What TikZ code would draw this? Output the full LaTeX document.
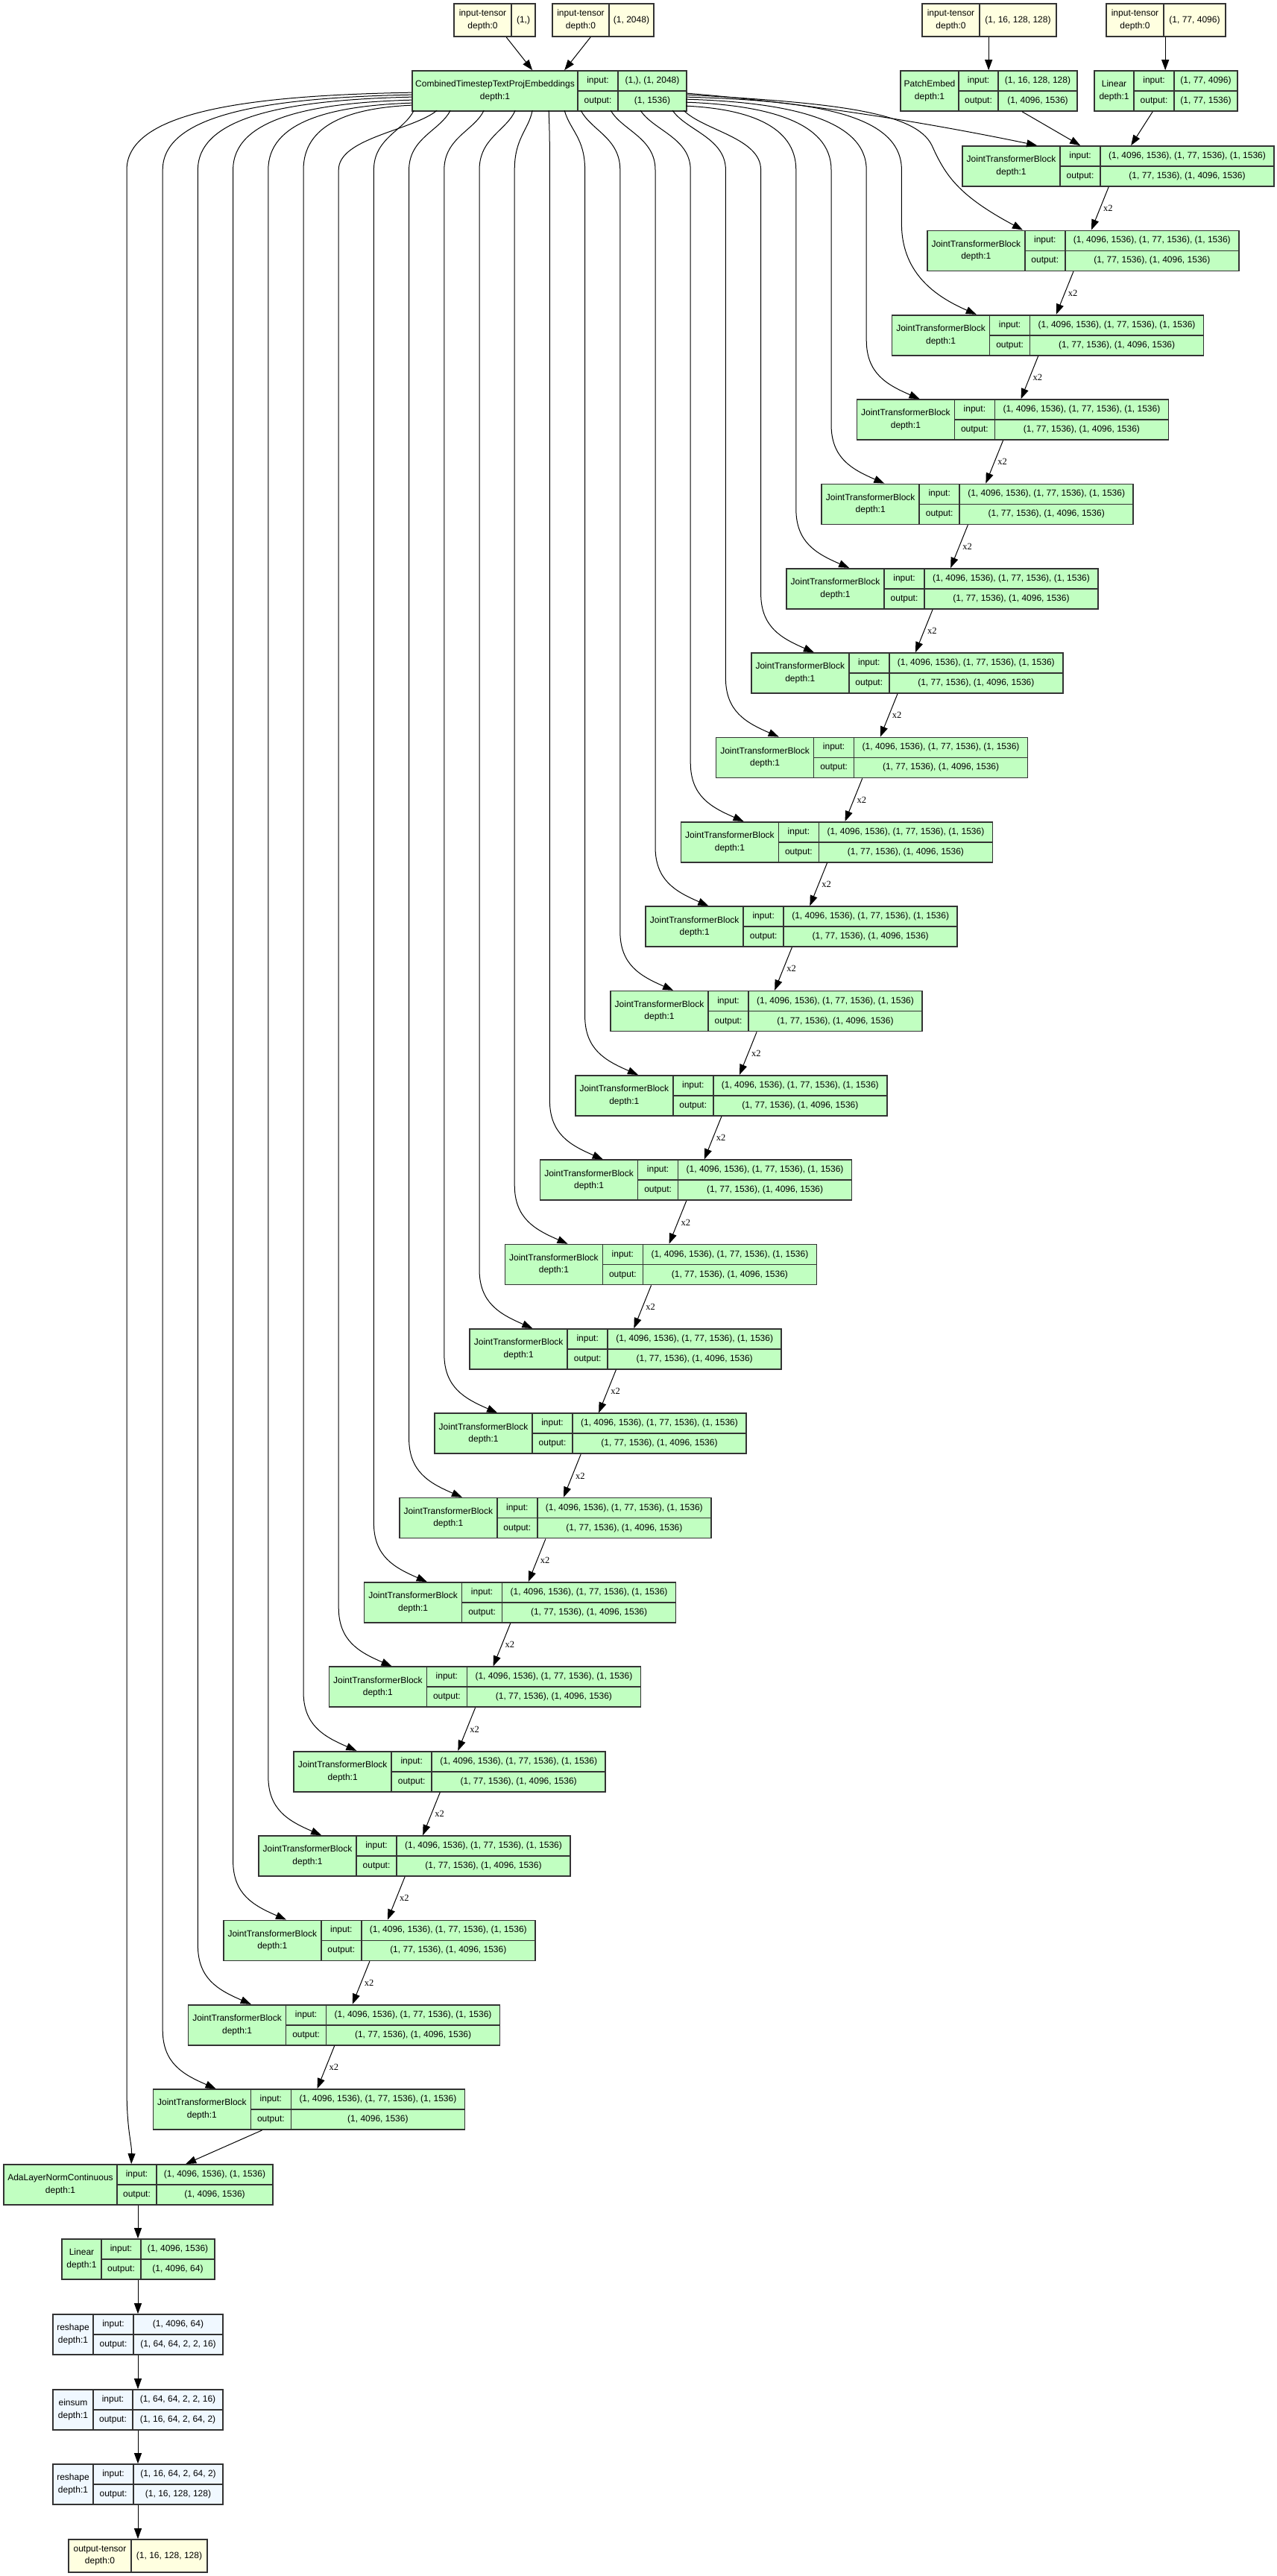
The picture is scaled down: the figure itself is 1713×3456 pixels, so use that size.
\documentclass[tikz,border=0pt]{standalone}
\usepackage{fontspec}
\setmainfont{Liberation Sans}
\newfontfamily\tvserif{Liberation Serif}
\usetikzlibrary{arrows.meta,calc,fit}
\definecolor{modgreen}{HTML}{C1FFC1}
\definecolor{tenyellow}{HTML}{FFFFE0}
\definecolor{fnblue}{HTML}{F0F8FF}
\definecolor{edgegray}{HTML}{333333}
\tikzset{
  boxframe/.style={draw=edgegray, line width=1.7pt, inner sep=0pt},
  boxline/.style={draw=edgegray, line width=1.7pt},
  txt/.style={font=\fontsize{12}{16.5}\selectfont, align=center, inner sep=0pt},
  val/.style={font=\fontsize{12}{14}\selectfont, inner sep=0pt, text height=9pt, text depth=3pt},
  conn/.style={line width=1pt, -{Triangle[length=14pt,width=10pt]}},
  mult/.style={font=\tvserif\fontsize{12.5}{14}\selectfont, inner sep=0pt},
}
% module record: name, x, y, w1, w2, w3, fill, title
\newcommand{\tvmod}[8]{%
  \pgfmathsetmacro{\tvXa}{#2+#4}%
  \pgfmathsetmacro{\tvXb}{#2+#4+#5}%
  \pgfmathsetmacro{\tvXc}{#2+#4+#5+#6}%
  \pgfmathsetmacro{\tvYb}{#3+54}%
  \pgfmathsetmacro{\tvYm}{#3+27}%
  \pgfmathsetmacro{\tvYi}{#3+13.5}%
  \pgfmathsetmacro{\tvYo}{#3+40.5}%
  \node[boxframe, fill=#7, fit={(#2,#3) (\tvXc,\tvYb)}] (#1) {};
  \draw[boxline] (\tvXa,#3) -- (\tvXa,\tvYb) (\tvXb,#3) -- (\tvXb,\tvYb) (\tvXa,\tvYm) -- (\tvXc,\tvYm);
  \node[txt] at ({(#2+\tvXa)/2},\tvYm) {#8};
  \coordinate (#1-ik) at ({(\tvXa+\tvXb)/2},\tvYi);
  \coordinate (#1-iv) at ({(\tvXb+\tvXc)/2},\tvYi);
  \coordinate (#1-ok) at ({(\tvXa+\tvXb)/2},\tvYo);
  \coordinate (#1-ov) at ({(\tvXb+\tvXc)/2},\tvYo);
}
\newcommand{\tvio}[3]{%
  \node[val] at (#1-ik) {input:};
  \node[val] at (#1-iv) {#2};
  \node[val] at (#1-ok) {output:};
  \node[val] at (#1-ov) {#3};
}
% tensor record: name, x, y, w1, w2, title, value
\newcommand{\tvten}[7]{%
  \pgfmathsetmacro{\tvXa}{#2+#4}%
  \pgfmathsetmacro{\tvXc}{#2+#4+#5}%
  \pgfmathsetmacro{\tvYb}{#3+44}%
  \pgfmathsetmacro{\tvYm}{#3+22}%
  \node[boxframe, fill=tenyellow, fit={(#2,#3) (\tvXc,\tvYb)}] (#1) {};
  \draw[boxline] (\tvXa,#3) -- (\tvXa,\tvYb);
  \node[txt] at ({(#2+\tvXa)/2},\tvYm) {#6};
  \node[val] at ({(\tvXa+\tvXc)/2},\tvYm) {#7};
}
\begin{document}
\begin{tikzpicture}[x=1pt,y=-1pt]
\fill[white] (0,0) rectangle (1713,3456);
\useasboundingbox (0,0) rectangle (1713,3456);

% ---- top inputs
\tvten{inA}{609}{5}{77}{32}{input-tensor\\depth:0}{(1,)}
\tvten{inB}{741}{5}{76}{60}{input-tensor\\depth:0}{(1, 2048)}
\tvten{inC}{1237}{5}{77}{103}{input-tensor\\depth:0}{(1, 16, 128, 128)}
\tvten{inD}{1484}{5}{77}{83}{input-tensor\\depth:0}{(1, 77, 4096)}

\tvmod{cte}{553}{95}{222}{54}{92}{modgreen}{CombinedTimestepTextProjEmbeddings\\depth:1}
\tvio{cte}{(1,), (1, 2048)}{(1, 1536)}
\tvmod{pe}{1208}{95}{78}{53}{106}{modgreen}{PatchEmbed\\depth:1}
\tvio{pe}{(1, 16, 128, 128)}{(1, 4096, 1536)}
\tvmod{lina}{1468}{95}{53}{54}{85}{modgreen}{Linear\\depth:1}
\tvio{lina}{(1, 77, 4096)}{(1, 77, 1536)}

% ---- transformer blocks
\foreach \i in {1,...,24}{
  \pgfmathsetmacro{\lx}{1291-(\i-1)*47.2}
  \pgfmathsetmacro{\ty}{196+(\i-1)*113.35}
  \tvmod{jtb\i}{\lx}{\ty}{131}{54}{233}{modgreen}{JointTransformerBlock\\depth:1}
  \ifnum\i<24 \tvio{jtb\i}{(1, 4096, 1536), (1, 77, 1536), (1, 1536)}{(1, 77, 1536), (1, 4096, 1536)}%
  \else \tvio{jtb\i}{(1, 4096, 1536), (1, 77, 1536), (1, 1536)}{(1, 4096, 1536)}\fi
}

% ---- bottom chain
\tvmod{adaln}{5}{2904}{152}{53}{156}{modgreen}{AdaLayerNormContinuous\\depth:1}
\tvio{adaln}{(1, 4096, 1536), (1, 1536)}{(1, 4096, 1536)}
\tvmod{linb}{83}{3004}{53}{53}{99}{modgreen}{Linear\\depth:1}
\tvio{linb}{(1, 4096, 1536)}{(1, 4096, 64)}
\tvmod{resA}{71}{3105}{54}{54}{120}{fnblue}{reshape\\depth:1}
\tvio{resA}{(1, 4096, 64)}{(1, 64, 64, 2, 2, 16)}
\tvmod{ein}{71}{3206}{54}{53}{121}{fnblue}{einsum\\depth:1}
\tvio{ein}{(1, 64, 64, 2, 2, 16)}{(1, 16, 64, 2, 64, 2)}
\tvmod{resB}{71}{3306}{54}{54}{120}{fnblue}{reshape\\depth:1}
\tvio{resB}{(1, 16, 64, 2, 64, 2)}{(1, 16, 128, 128)}
\tvten{outT}{92}{3407}{84}{102}{output-tensor\\depth:0}{(1, 16, 128, 128)}

% ---- connectors at the top
\draw[conn] ([xshift=71pt]inA.south west) -- ([xshift=162pt]cte.north west);
\draw[conn] ([xshift=52pt]inB.south west) -- ([xshift=205pt]cte.north west);
\draw[conn] ([xshift=90pt]inC.south west) -- ([xshift=119pt]pe.north west);
\draw[conn] ([xshift=80pt]inD.south west) -- ([xshift=96pt]lina.north west);
\draw[conn] ([xshift=164pt]pe.south west) -- ([xshift=159pt]jtb1.north west);
\draw[conn] ([xshift=79pt]lina.south west) -- ([xshift=227pt]jtb1.north west);

% ---- CTE to the first blocks (right side)
\draw[conn] ([shift={(0,31)}]cte.north east) .. controls (1100,140) and (1260,168) .. ([xshift=101pt]jtb1.north west);
\draw[conn] ([shift={(0,33)}]cte.north east) .. controls (1120,138) and (1228,150) .. (1250,195)
   .. controls (1268,235) and (1285,262) .. ([xshift=129pt]jtb2.north west);
\draw[conn] ([shift={(0,36)}]cte.north east) .. controls (1080,135) and (1209.4,150) .. (1209.4,228)
   -- (1209.4,300) .. controls (1209.4,370) and (1260,400) .. ([xshift=114pt]jtb3.north west);

% ---- CTE to the other blocks
\foreach \i/\eX/\eY/\cX/\cY/\dY in {
  4/921/134/1053.7/137/159, 5/921/138/1027.7/141/163, 6/921/143/1001.7/146/168,
  7/918/149/943.7/175/185, 8/903/149/920.6/175/185, 9/860/149/876.6/175/185,
  10/820/149/834.8/175/185, 11/780/149/793/175/185, 12/758/149/764.7/175/185,
  13/737/149/737.1/175/185, 14/715/149/708.8/175/185, 15/692/149/679.8/175/185,
  16/650/149/636.5/175/185, 17/605/149/590.9/175/185, 18/556/149/542.4/175/185,
  19/587/149/553.8/175/185, 20/553/142/468.3/145/167, 21/553/139/441/142/164,
  22/553/135/413.6/138/160, 23/553/131/386.2/134/156, 24/553/128/358.8/131/153}{
  \pgfmathsetmacro{\lx}{1291-(\i-1)*47.2}
  \pgfmathsetmacro{\ty}{196+(\i-1)*113.35}
  \pgfmathsetmacro{\vx}{\lx+12.8}
  \draw[conn] ([shift={({\eX-553},{\eY-95})}]cte.north west) .. controls (\cX,\cY) and (\vx,\dY) .. (\vx,228)
     -- (\vx,{\ty-80}) .. controls (\vx,{\ty-35}) and ({\lx+40},{\ty-20}) .. ([xshift=85pt]jtb\i.north west);
}
\draw[conn] ([shift={(0,30)}]cte.north west) .. controls (330.9,128) and (170,150) .. (170,228)
   -- (170,2800) .. controls (170,2860) and (177,2875) .. ([xshift=172pt]adaln.north west);

% ---- chain between blocks
\foreach \i in {1,...,23}{
  \pgfmathtruncatemacro{\j}{\i+1}
  \draw[conn] ([xshift=197pt]jtb\i.south west) -- ([xshift=221pt]jtb\j.north west)
     node[mult, midway, right=4pt] {x2};
}
\draw[conn] ([xshift=147pt]jtb24.south west) -- ([xshift=245pt]adaln.north west);

% ---- bottom chain
\coordinate (chainx) at (185,0);
\draw[conn] (adaln.south -| chainx) -- (linb.north -| chainx);
\draw[conn] (linb.south -| chainx) -- (resA.north -| chainx);
\draw[conn] (resA.south -| chainx) -- (ein.north -| chainx);
\draw[conn] (ein.south -| chainx) -- (resB.north -| chainx);
\draw[conn] (resB.south -| chainx) -- (outT.north -| chainx);
\end{tikzpicture}
\end{document}
